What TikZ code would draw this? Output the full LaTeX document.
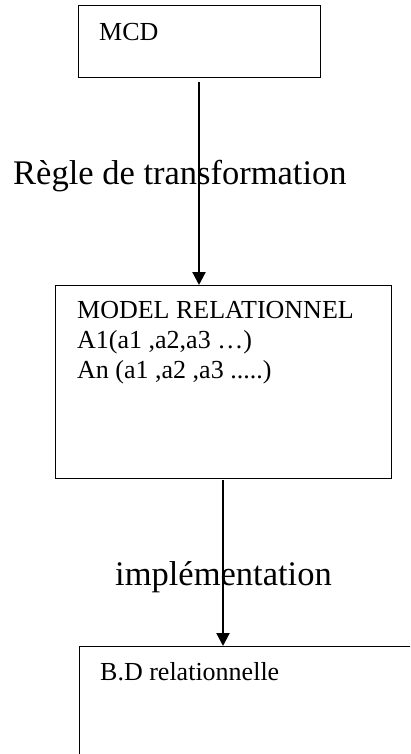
\documentclass[tikz,border=0pt]{standalone}
\usepackage{fontspec}
\setmainfont{Liberation Serif}
\usepackage{tikz}
\usetikzlibrary{positioning, arrows.meta}

\begin{document}
\begin{tikzpicture}[
    x=1pt, y=-1pt,
    box/.style={draw, line width=1.4pt, rectangle, anchor=north west, inner sep=0pt},
    boxtext/.style={anchor=north west, inner sep=0pt, align=left, font=\fontsize{26}{30}\selectfont},
    steplabel/.style={anchor=base west, inner sep=0pt, font=\fontsize{34.5}{40}\selectfont},
    arr/.style={line width=2.2pt, -{Triangle[length=13pt, width=13pt]}}
]
\useasboundingbox (0,0) rectangle (410,754);
\clip (0,0) rectangle (410,754);

% boxes
\node[box, minimum width=242pt, minimum height=72pt] (mcd) at (78,5) {};
\node[box, minimum width=336pt, minimum height=193pt] (model) at (55,285) {};
\node[box, minimum width=400pt, minimum height=200pt] (bd) at (79,646) {};

% texts in the boxes
\node[boxtext] (mcdtxt) at (99,23) {MCD};
\node[boxtext] (modeltxt) at (77,301) {MODEL RELATIONNEL\\A1(a1 ,a2,a3 \ldots)\\An (a1 ,a2 ,a3 .....)};
\node[boxtext] (bdtxt) at (100,662) {B.D relationnelle};

% labels of the steps
\node[steplabel] (rule) at (13,185) {Règle de transformation};
\node[steplabel] (impl) at (115,585) {implémentation};

% arrows
\coordinate (a1) at (199,82);
\coordinate (a2) at (223,480);
\draw[arr] (a1) -- (model.north -| a1);
\draw[arr] (a2) -- (bd.north -| a2);
\end{tikzpicture}
\end{document}
